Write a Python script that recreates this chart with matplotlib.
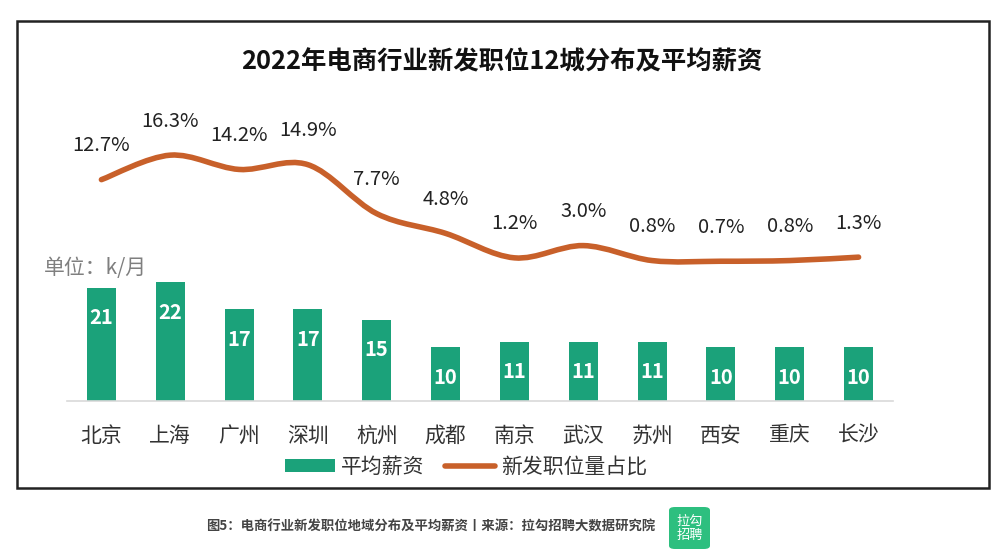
import matplotlib.pyplot as plt
from matplotlib.path import Path
from matplotlib.patches import PathPatch, Rectangle, FancyBboxPatch
from matplotlib.lines import Line2D
from matplotlib.patches import Patch

plt.rcParams['font.family'] = ['Noto Sans CJK SC', 'DejaVu Sans']

cities = ['北京', '上海', '广州', '深圳', '杭州', '成都', '南京', '武汉', '苏州', '西安', '重庆', '长沙']
salary = [21, 22, 17, 17, 15, 10, 11, 11, 11, 10, 10, 10]
share = [12.7, 16.3, 14.2, 14.9, 7.7, 4.8, 1.2, 3.0, 0.8, 0.7, 0.8, 1.3]

green = '#1ba27a'
orange = '#c8602a'

fig = plt.figure(figsize=(10, 5.57), dpi=100)
W, H = 1000, 557

# frame around chart
fig.patches.append(Rectangle((17 / W, 1 - 488 / H), 972 / W, 467 / H, transform=fig.transFigure,
                             fill=False, edgecolor='#222222', linewidth=1.8))

ax = fig.add_axes([67 / W, 1 - 401 / H, 826 / W, 301 / H])
x = list(range(len(cities)))
ax.bar(x, salary, width=0.42, color=green)
for i, v in enumerate(salary):
    ax.annotate(str(v), (i, v), xytext=(0, -30), textcoords='offset pixels',
                ha='center', va='center', color='white', fontsize=14.5, fontweight='bold')
ax.set_xlim(-0.5, len(cities) - 0.5)
ax.set_ylim(0, 301 / 5.4)
ax.set_xticks(x)
ax.set_xticklabels(cities, fontsize=15, color='#333333')
ax.tick_params(axis='x', length=0, pad=17)
ax.set_yticks([])
for s in ['top', 'left', 'right']:
    ax.spines[s].set_visible(False)
ax.spines['bottom'].set_color('#d9d9d9')
ax.spines['bottom'].set_linewidth(1.2)

# line on secondary axis, smoothed with bezier curves through the points
ax2 = ax.twinx()
ax2.set_ylim(-(401 - 266) / 6.8, (266 - 100) / 6.8)
ax2.set_yticks([])
for s in ax2.spines.values():
    s.set_visible(False)
pts = list(zip(x, share))
verts = [pts[0]]
codes = [Path.MOVETO]
n = len(pts)
for i in range(n - 1):
    p0 = pts[max(i - 1, 0)]
    p1 = pts[i]
    p2 = pts[i + 1]
    p3 = pts[min(i + 2, n - 1)]
    c1 = (p1[0] + (p2[0] - p0[0]) / 6, p1[1] + (p2[1] - p0[1]) / 6)
    c2 = (p2[0] - (p3[0] - p1[0]) / 6, p2[1] - (p3[1] - p1[1]) / 6)
    verts += [c1, c2, p2]
    codes += [Path.CURVE4] * 3
ax2.add_patch(PathPatch(Path(verts, codes), fill=False, edgecolor=orange, linewidth=4,
                        capstyle='round', joinstyle='round'))
for i, v in enumerate(share):
    ax2.annotate(f'{v:.1f}%', (i, v), xytext=(0, 34), textcoords='offset pixels',
                 ha='center', va='center', color='#222222', fontsize=14.5)

fig.text(0.502, 1 - 62 / H, '2022年电商行业新发职位12城分布及平均薪资', ha='center', va='center',
         fontsize=18.3, fontweight='bold', color='#111111')
fig.text(44 / W, 1 - 268 / H, '单位：k/月', ha='left', va='center', fontsize=15, color='#7f7f7f')

handles = [Patch(facecolor=green), Line2D([0], [0], color=orange, linewidth=4, solid_capstyle='round')]
fig.legend(handles, ['平均薪资', '新发职位量占比'], loc='center', bbox_to_anchor=(466 / W, 1 - 467 / H),
           ncol=2, frameon=False, fontsize=15, handlelength=2.4, handleheight=0.6,
           columnspacing=1.0, handletextpad=0.3, labelcolor='#333333')

fig.text(206 / W, 1 - 527 / H, '图5：电商行业新发职位地域分布及平均薪资丨来源：拉勾招聘大数据研究院',
         ha='left', va='center', fontsize=9.6, fontweight='bold', color='#444444')
fig.patches.append(FancyBboxPatch((669 / W, 1 - 549 / H), 41 / W, 42 / H, transform=fig.transFigure,
                                  boxstyle='round,pad=0,rounding_size=0.006', facecolor='#2dbf7f',
                                  edgecolor='none'))
fig.text(689.5 / W, 1 - 528 / H, '拉勾\n招聘', ha='center', va='center', fontsize=9.5,
         color='white', linespacing=1.1)

fig.savefig('out.png', dpi=100)
